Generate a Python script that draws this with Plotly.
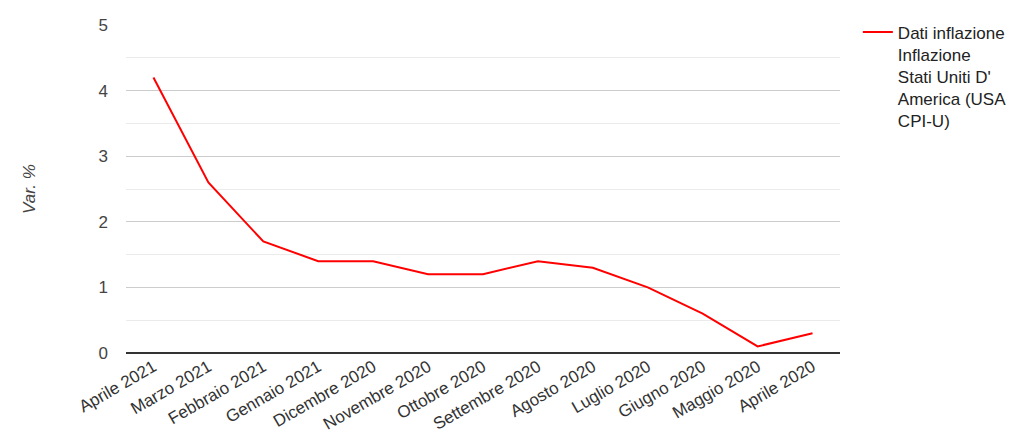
import plotly.graph_objects as go

categories = ["Aprile 2021", "Marzo 2021", "Febbraio 2021", "Gennaio 2021", "Dicembre 2020",
              "Novembre 2020", "Ottobre 2020", "Settembre 2020", "Agosto 2020", "Luglio 2020",
              "Giugno 2020", "Maggio 2020", "Aprile 2020"]
values = [4.2, 2.6, 1.7, 1.4, 1.4, 1.2, 1.2, 1.4, 1.3, 1.0, 0.6, 0.1, 0.3]
series_name = "Dati inflazione<br>Inflazione<br>Stati Uniti D'<br>America (USA<br>CPI-U)"
y_ticks = [0, 1, 2, 3, 4, 5]

fig = go.Figure()
fig.add_trace(go.Scatter(x=categories, y=values, mode="lines", name=series_name,
                         line=dict(color="#ff0000", width=2), showlegend=True))

font = "Liberation Sans, Arial, sans-serif"
fig.update_layout(
    width=1024, height=442,
    margin=dict(l=118, r=192, t=17, b=97, autoexpand=False),
    paper_bgcolor="white", plot_bgcolor="white",
    font=dict(family=font, size=17, color="#444444"),
    showlegend=True,
    legend=dict(x=1.025, y=1.032, xanchor="left", yanchor="top", valign="top",
                font=dict(size=17, color="#222222"), itemwidth=30,
                bgcolor="rgba(0,0,0,0)", tracegroupgap=0),
    xaxis=dict(type="category", tickangle=-30, showgrid=False, showline=False,
               range=[-0.5, len(categories) - 0.5], automargin=False,
               ticks="", tickfont=dict(size=17, color="#333333"), zeroline=False),
    yaxis=dict(range=[0, 5], tickvals=y_ticks, showgrid=True, gridcolor="#cccccc",
               minor=dict(dtick=0.5, showgrid=True, gridcolor="#ebebeb"),
               zeroline=True, zerolinecolor="#333333", zerolinewidth=1.5,
               ticks="", ticklabelstandoff=17, automargin=False,
               tickfont=dict(size=17, color="#444444"),
               title=dict(text="<i>Var. %</i>", standoff=58,
                          font=dict(size=17, color="#444444"))),
)

fig.write_html("out.html")
